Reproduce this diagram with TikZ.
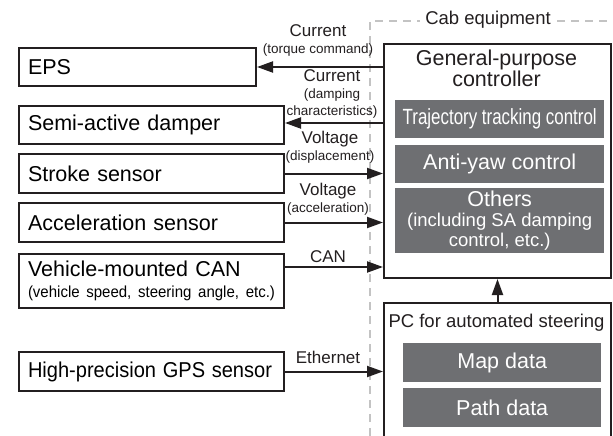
\documentclass[tikz,border=0pt]{standalone}
\usepackage{fontspec}
\usepackage{graphicx}
\setmainfont{Liberation Sans}
\usetikzlibrary{arrows.meta,calc}
\definecolor{ink}{RGB}{35,31,32}
\definecolor{blockgray}{RGB}{110,111,114}
\definecolor{dashgray}{RGB}{195,195,195}
\newcommand{\fsz}[2]{\fontsize{#1}{#2}\selectfont}
\frenchspacing
\begin{document}
\begin{tikzpicture}[x=1pt,y=-1pt,
  box/.style={draw=ink, line width=2pt, fill=white, anchor=north west, inner xsep=9pt, inner ysep=0pt, align=left, font=\fsz{21.5}{22}},
  frame/.style={draw=ink, line width=2pt, anchor=north west, inner sep=0pt},
  gbox/.style={fill=blockgray, text=white, anchor=north west, inner sep=0pt, align=center},
  arr/.style={draw=ink, line width=2pt, -{Triangle[length=16pt,width=11pt]}},
  lbl/.style={text=ink, align=center, inner sep=0pt, font=\fsz{17}{17}},
  cab/.style={draw=dashgray, line width=2pt, dash pattern=on 8pt off 6pt}
]
\useasboundingbox (0,0) rectangle (613,436);
\fill[white] (0,0) rectangle (613,436);

% cab equipment boundary
\draw[cab] (370,436) -- (370,21) -- (613,21);
\node[lbl, fill=white, inner xsep=5pt, inner ysep=2pt, font=\fsz{18.5}{19}] (cabl) at (488,20) {Cab equipment};

% left devices
\node[box, text width=219pt, minimum height=38pt] (eps) at (18,47) {EPS};
\node[box, text width=247pt, minimum height=38pt] (dam) at (18,105) {Semi-active damper};
\node[box, text width=247pt, minimum height=39pt] (str) at (18,153) {Stroke sensor};
\node[box, text width=247pt, minimum height=39pt] (acc) at (18,202) {Acceleration sensor};
\node[box, text width=247pt, minimum height=54pt] (can) at (18,253) {\mbox{Vehicle-mounted CAN}\\[-1pt]\resizebox{247pt}{\height}{\fsz{16}{16}(vehicle speed, steering angle, etc.)}};
\node[box, text width=247pt, minimum height=39pt] (gps) at (18,351) {\resizebox{244pt}{\height}{High-precision GPS sensor}};

% general-purpose controller
\node[frame, minimum width=227pt, minimum height=234pt] (ctrl) at (383,43) {};
\node[lbl, font=\fsz{21.5}{20}] (ctrlt) at (496.5,68) {General-purpose\\controller};
\node[gbox, minimum width=209pt, minimum height=38pt] (traj) at (395,100) {\resizebox{194pt}{\height}{\fsz{22}{22}Trajectory tracking control}};
\node[gbox, minimum width=209pt, minimum height=38pt, font=\fsz{21.5}{22}] (yaw) at (395,145) {Anti-yaw control};
\node[gbox, minimum width=209pt, minimum height=65pt, font=\fsz{21.5}{20}] (oth) at (395,188) {Others\\{\fsz{18.5}{20}(including SA damping}\\{\fsz{18.5}{20}control, etc.)}};

% PC for automated steering
\node[frame, minimum width=227pt, minimum height=140pt] (pc) at (383,302) {};
\node[lbl, font=\fsz{18.5}{19}] (pct) at (496.5,323) {PC for automated steering};
\node[gbox, minimum width=198pt, minimum height=39pt, font=\fsz{21.5}{22}] (map) at (403,343) {Map data};
\node[gbox, minimum width=198pt, minimum height=39pt, font=\fsz{21.5}{22}] (path) at (403,388) {Path data};

% connectors
\coordinate (damin) at ($(dam.east)+(0,-2)$);
\coordinate (canout) at ($(can.north east)!0.25!(can.south east)$);
\draw[arr] (ctrl.west |- eps.east) -- (eps.east);
\draw[arr] (ctrl.west |- damin) -- (damin);
\draw[arr] (str.east) -- (ctrl.west |- str.east);
\draw[arr] (acc.east) -- (ctrl.west |- acc.east);
\draw[arr] (canout) -- (ctrl.west |- canout);
\draw[arr] (gps.east) -- (pc.west |- gps.east);
\draw[arr] (pc.north) -- (ctrl.south);

% connector labels
\node[lbl] (l1) at (318,40) {Current\\{\fsz{13.5}{15}(torque command)}};
\node[lbl] (l2) at (332,94) {Current\\{\fsz{13.5}{15}(damping}\\{\fsz{13.5}{15}characteristics)}};
\node[lbl] (l3) at (330,147) {Voltage\\{\fsz{13.5}{15}(displacement)}};
\node[lbl] (l4) at (328,199) {Voltage\\{\fsz{13.5}{15}(acceleration)}};
\node[lbl] (l5) at (328,257) {CAN};
\node[lbl] (l6) at (328,357) {Ethernet};
\end{tikzpicture}
\end{document}
